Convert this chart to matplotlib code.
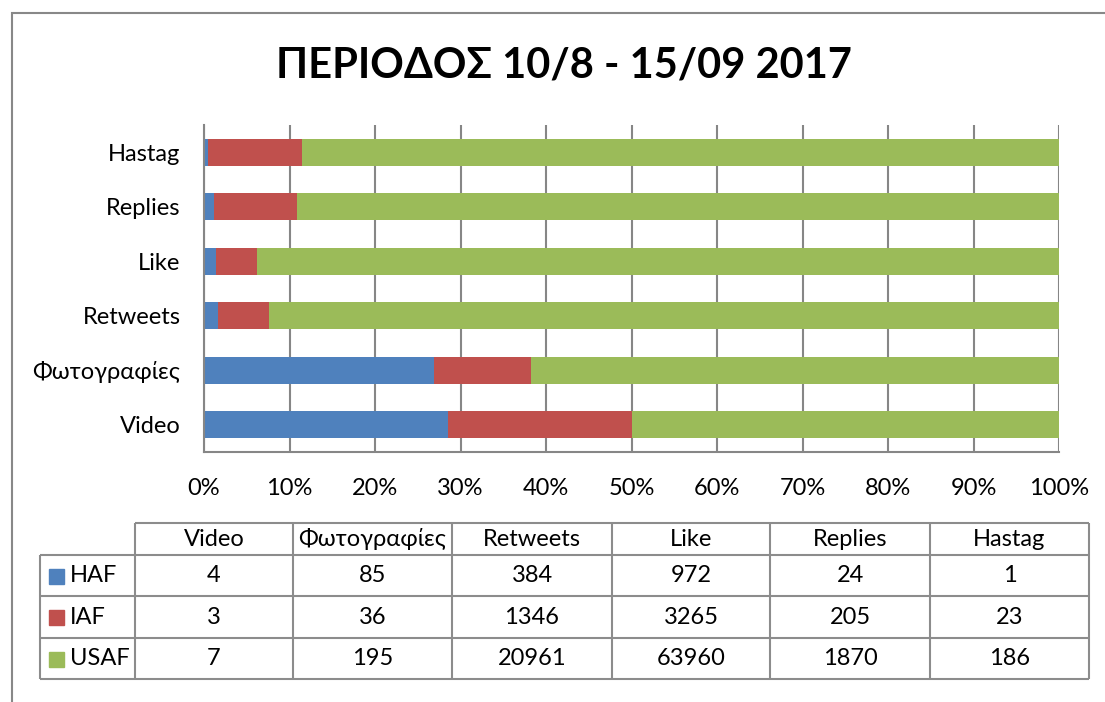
import numpy as np
import matplotlib.pyplot as plt
from matplotlib.patches import Rectangle

categories = ['Video', 'Φωτογραφίες', 'Retweets', 'Like', 'Replies', 'Hastag']
series = ['HAF', 'IAF', 'USAF']
haf = [4, 85, 384, 972, 24, 1]
iaf = [3, 36, 1346, 3265, 205, 23]
usaf = [7, 195, 20961, 63960, 1870, 186]
colors = ['#4F81BD', '#C0504D', '#9BBB59']
title = 'ΠΕΡΙΟΔΟΣ 10/8 - 15/09 2017'

plt.rcParams['font.family'] = ['Lato', 'DejaVu Sans']
W, H = 1105, 702
fig = plt.figure(figsize=(W / 100, H / 100), dpi=100)

# outer chart border (runs off the right and bottom edge)
fig.patches.append(Rectangle((12 / W, -0.1), 1.2, (H - 13) / H + 0.1,
                             transform=fig.transFigure, fill=False,
                             edgecolor='#888888', linewidth=1.5))

fig.text(564 / W, 1 - 66 / H, title, ha='center', va='center',
         fontsize=30, fontweight='bold')

# stacked 100% bars
ax = fig.add_axes([204 / W, 1 - 452 / H, (1059 - 204) / W, (452 - 125) / H])
data = np.array([haf, iaf, usaf], dtype=float)
pct = data / data.sum(axis=0) * 100
y = np.arange(len(categories))
left = np.zeros(len(categories))
for i, name in enumerate(series):
    ax.barh(y, pct[i], left=left, height=0.5, color=colors[i], label=name)
    left += pct[i]

fs = 17
ax.set_xlim(0, 100)
ax.set_ylim(-0.5, len(categories) - 0.5)
ax.set_xticks(np.arange(0, 101, 10))
ax.set_xticklabels([f'{v}%' for v in range(0, 101, 10)])
ax.set_yticks(y)
ax.set_yticklabels(categories)
ax.tick_params(axis='x', length=0, pad=19, labelsize=fs)
ax.tick_params(axis='y', length=0, pad=17, labelsize=fs)
ax.grid(axis='x', color='#868686', linewidth=1.5)
ax.set_axisbelow(True)
for s in ['top', 'right']:
    ax.spines[s].set_visible(False)
for s in ['left', 'bottom']:
    ax.spines[s].set_color('#868686')
    ax.spines[s].set_linewidth(1.5)

# data table below
col_edges = [40, 135, 293, 452, 612, 770, 930, 1089]
row_edges = [523, 555, 596, 638, 679]
tx = fig.add_axes([0, 0, 1, 1])
tx.set_xlim(0, W)
tx.set_ylim(H, 0)
tx.axis('off')
lc = '#8C8C8C'
# header row (no left cell)
tx.hlines(row_edges[0], col_edges[1], col_edges[-1], color=lc, lw=1.5)
tx.hlines(row_edges[1:], col_edges[0], col_edges[-1], color=lc, lw=1.5)
tx.vlines(col_edges[0], row_edges[1], row_edges[-1], color=lc, lw=1.5)
tx.vlines(col_edges[1:], row_edges[0], row_edges[-1], color=lc, lw=1.5)

for j, cat in enumerate(categories):
    cx = (col_edges[j + 1] + col_edges[j + 2]) / 2
    tx.text(cx, (row_edges[0] + row_edges[1]) / 2, cat, ha='center',
            va='center', fontsize=fs)
for i, name in enumerate(series):
    cy = (row_edges[i + 1] + row_edges[i + 2]) / 2
    tx.add_patch(Rectangle((49, cy - 7), 15, 15, color=colors[i]))
    tx.text(70, cy, name, ha='left', va='center', fontsize=fs)
    for j in range(len(categories)):
        cx = (col_edges[j + 1] + col_edges[j + 2]) / 2
        tx.text(cx, cy, str(int(data[i, j])), ha='center', va='center',
                fontsize=fs)

fig.savefig('out.png', dpi=100)
